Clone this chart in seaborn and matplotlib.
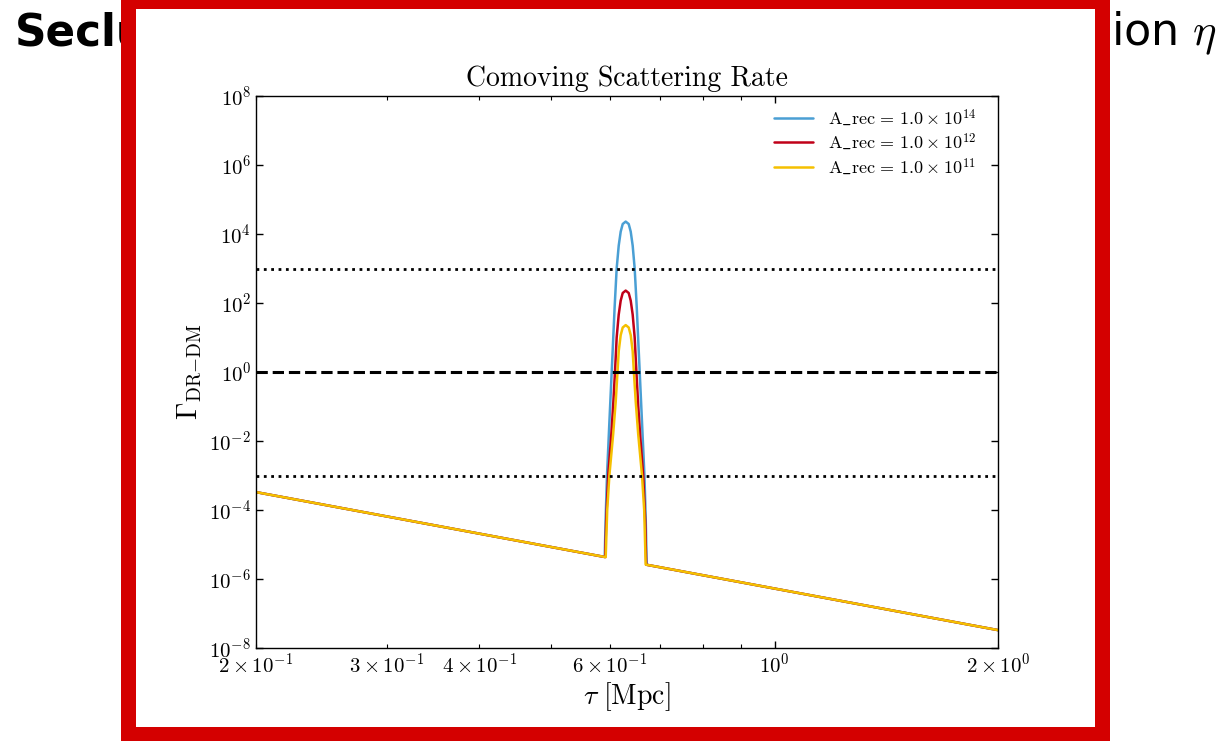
import numpy as np
import pandas as pd
import matplotlib.pyplot as plt
import seaborn as sns
from matplotlib.patches import Rectangle
from matplotlib.ticker import LogFormatterSciNotation, NullLocator

# valeurs (tau en Mpc, Gamma sans unité)
tau_blue = [0.200, 0.5902, 0.5920, 0.5944, 0.5988, 0.6031, 0.6059, 0.6087, 0.6125,
            0.6164, 0.6202, 0.6241, 0.6299, 0.6358, 0.6398, 0.6437, 0.6477, 0.6518,
            0.6548, 0.6579, 0.6626, 0.6676, 0.6702, 0.6723, 2.000]
gamma_blue = [3.3e-4, 4.35e-6, 6.3e-5, 1e-3, 3.5e-2, 1.0, 8.9, 79, 1.0e3,
              4.6e3, 1.17e4, 1.95e4, 2.29e4, 1.95e4, 1.17e4, 4.6e3, 1.0e3, 79,
              8.9, 1.0, 3.5e-2, 1e-3, 6.3e-5, 2.58e-6, 3.3e-8]

tau_red = [0.200, 0.5911, 0.5929, 0.5966, 0.6022, 0.6059, 0.6093, 0.6125, 0.6164,
           0.6202, 0.6241, 0.6299, 0.6358, 0.6398, 0.6437, 0.6477, 0.6512, 0.6548,
           0.6589, 0.6651, 0.6692, 0.6713, 2.000]
gamma_red = [3.3e-4, 4.32e-6, 5e-5, 1e-3, 1.4e-2, 0.11, 1.0, 10, 46,
             117, 195, 229, 195, 117, 46, 10, 1.0, 0.11,
             1.4e-2, 1e-3, 5e-5, 2.6e-6, 3.3e-8]

tau_yellow = [0.200, 0.5920, 0.5948, 0.5988, 0.6059, 0.6107, 0.6141, 0.6164, 0.6202,
              0.6241, 0.6299, 0.6358, 0.6398, 0.6437, 0.6461, 0.6498, 0.6548, 0.6626,
              0.6671, 0.6702, 2.000]
gamma_yellow = [3.3e-4, 4.3e-6, 1e-4, 1e-3, 1.6e-2, 0.14, 1.0, 4.0, 11.7,
                19.5, 22.9, 19.5, 11.7, 4.0, 1.0, 0.14, 1.6e-2, 1e-3,
                1e-4, 2.62e-6, 3.3e-8]

labels = [r"$\mathrm{A\_rec}\,=\,1.0\times10^{14}$",
          r"$\mathrm{A\_rec}\,=\,1.0\times10^{12}$",
          r"$\mathrm{A\_rec}\,=\,1.0\times10^{11}$"]
colors = ["#4a9fd4", "#c00018", "#f5c000"]

h_dotted = [1e3, 1e-3]
h_dashed = [1e0]
y_ticks = [1e-8, 1e-6, 1e-4, 1e-2, 1e0, 1e2, 1e4, 1e6, 1e8]

df = pd.concat([
    pd.DataFrame({"tau": tau_blue, "gamma": gamma_blue, "serie": labels[0]}),
    pd.DataFrame({"tau": tau_red, "gamma": gamma_red, "serie": labels[1]}),
    pd.DataFrame({"tau": tau_yellow, "gamma": gamma_yellow, "serie": labels[2]}),
], ignore_index=True)

sns.set_style("ticks")
plt.rcParams["font.family"] = "serif"
plt.rcParams["font.serif"] = ["cmr10"]
plt.rcParams["mathtext.fontset"] = "cm"
plt.rcParams["axes.formatter.use_mathtext"] = True
plt.rcParams["axes.unicode_minus"] = True
for k in ["text.color", "axes.labelcolor", "xtick.color", "ytick.color", "axes.edgecolor"]:
    plt.rcParams[k] = "black"

W, H = 1223, 741
fig = plt.figure(figsize=(W / 100, H / 100), dpi=100)
fig.patch.set_facecolor("white")

# titre de la diapo (en partie caché par le cadre)
fig.text(15 / W, 1 - 45 / H, "Seclu", fontsize=31.5, fontweight="bold",
         family="DejaVu Sans", va="baseline", color="black", zorder=1)
fig.text(1217 / W, 1 - 45 / H, r"ion $\eta$", fontsize=32,
         family="DejaVu Sans", va="baseline", ha="right", color="black", zorder=1)

# cadre rouge
fig.add_artist(Rectangle((121 / W, -0.05), (1110 - 121) / W, 1.1,
                         transform=fig.transFigure, facecolor="#d40000",
                         edgecolor="none", zorder=5))
fig.add_artist(Rectangle((136 / W, 1 - 727 / H), (1095 - 136) / W, (727 - 9) / H,
                         transform=fig.transFigure, facecolor="white",
                         edgecolor="none", zorder=6))

ax = fig.add_axes([256 / W, 1 - 648 / H, 742 / W, 552 / H])
ax.set_zorder(10)

sns.lineplot(data=df, x="tau", y="gamma", hue="serie", hue_order=labels,
             palette=colors, estimator=None, errorbar=None, sort=False,
             linewidth=1.8, legend=False, ax=ax)

for y in h_dotted:
    ax.axhline(y, color="black", linestyle=":", linewidth=2.0)
for y in h_dashed:
    ax.axhline(y, color="black", linestyle="--", linewidth=2.2)

ax.set_xscale("log")
ax.set_yscale("log")
ax.set_xlim(0.2, 2.0)
ax.set_ylim(1e-8, 1e8)
ax.set_yticks(y_ticks)
ax.yaxis.set_minor_locator(NullLocator())
ax.xaxis.set_major_formatter(LogFormatterSciNotation(labelOnlyBase=False, minor_thresholds=(2, 0.4)))
ax.xaxis.set_minor_formatter(LogFormatterSciNotation(labelOnlyBase=False, minor_thresholds=(2, 0.4)))

ax.tick_params(which="both", direction="in", top=True, right=True, colors="black",
               labelsize=15)
ax.tick_params(which="major", length=5, width=1)
ax.tick_params(which="minor", length=3, width=0.8)
for s in ax.spines.values():
    s.set_color("black")
    s.set_linewidth(1.0)

ax.set_title("Comoving Scattering Rate", fontsize=20, pad=7)
ax.set_xlabel(r"$\tau\ [\mathrm{Mpc}]$", fontsize=20, labelpad=2)
ax.set_ylabel(r"$\Gamma_{\mathrm{DR}{-}\mathrm{DM}}$", fontsize=20)

ax.legend(handles=ax.lines[:3], labels=labels, loc="upper right",
          bbox_to_anchor=(0.985, 1.0), frameon=False,
          fontsize=13, handlelength=2.2, labelspacing=0.2, borderaxespad=0.2)

fig.savefig("out.png", dpi=100)
